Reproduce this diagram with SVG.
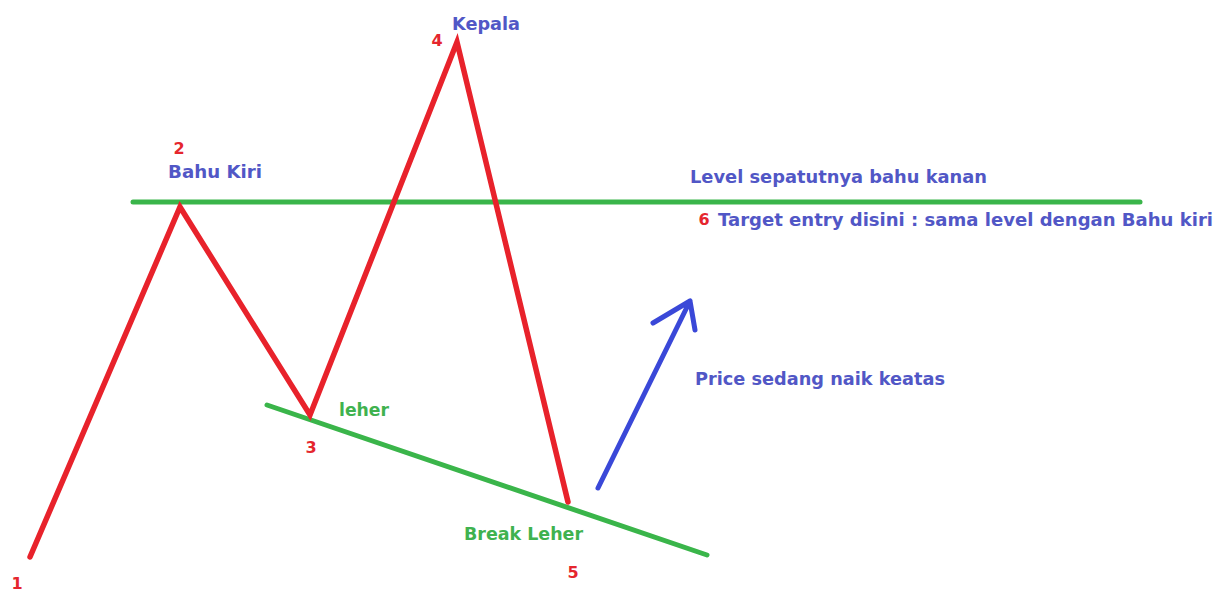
<svg xmlns="http://www.w3.org/2000/svg" width="1221" height="593" viewBox="0 0 1221 593">
<style>
text{font-family:"DejaVu Sans",Verdana,sans-serif;font-weight:bold;font-size:17px}
.n{fill:#e5262e;font-size:16px}
.b{fill:#5157c6}
.g{fill:#3fb24f}
.red{fill:none;stroke:#e8222b;stroke-width:5.5;stroke-linecap:round;stroke-linejoin:miter}
.grn{fill:none;stroke:#3ab54a;stroke-width:5;stroke-linecap:round}
.blu{fill:none;stroke:#3a48d8;stroke-width:5;stroke-linecap:round;stroke-linejoin:round}
</style>
<rect width="1221" height="593" fill="#ffffff"/>
<g id="connectors">
<line class="grn" x1="133" y1="202" x2="1140" y2="202"/>
<line class="grn" x1="267" y1="405" x2="707" y2="555"/>
<polyline class="red" points="30,557 180,207 310,415 457,42 568,502"/>
<path class="blu" d="M598,488 L690,301 M653,323 L690,301 L695,330"/>
</g>
<g id="node-1"><text class="n" x="17" y="589" text-anchor="middle">1</text></g>
<g id="node-2"><text class="n" x="179" y="154" text-anchor="middle">2</text><text class="b" x="168" y="178" textLength="94" lengthAdjust="spacingAndGlyphs">Bahu Kiri</text></g>
<g id="node-3"><text class="n" x="311" y="453" text-anchor="middle">3</text><text class="g" x="339" y="416" textLength="50" lengthAdjust="spacingAndGlyphs">leher</text></g>
<g id="node-4"><text class="n" x="437" y="46" text-anchor="middle">4</text><text class="b" x="452" y="30" textLength="68" lengthAdjust="spacingAndGlyphs">Kepala</text></g>
<g id="node-5"><text class="n" x="573" y="578" text-anchor="middle">5</text><text class="g" x="464" y="540" textLength="119" lengthAdjust="spacingAndGlyphs">Break Leher</text></g>
<g id="node-6"><text class="b" x="690" y="183" textLength="297" lengthAdjust="spacingAndGlyphs">Level sepatutnya bahu kanan</text><text class="n" x="704" y="225" text-anchor="middle">6</text><text class="b" x="718" y="226" textLength="495" lengthAdjust="spacingAndGlyphs">Target entry disini : sama level dengan Bahu kiri</text></g>
<g id="label-price"><text class="b" x="695" y="385" textLength="250" lengthAdjust="spacingAndGlyphs">Price sedang naik keatas</text></g>
</svg>
